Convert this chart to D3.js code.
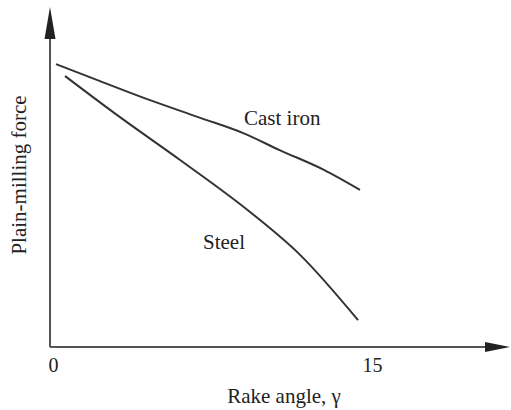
<!DOCTYPE html>
<html>
<head>
<meta charset="utf-8">
<script src="https://cdn.jsdelivr.net/npm/d3@7"></script>
<style>
html,body{margin:0;padding:0;background:#fff;}
svg{display:block;}
text{font-family:"Liberation Serif","DejaVu Serif",serif;fill:#222;}
</style>
</head>
<body>
<svg id="chart" width="511" height="410"></svg>
<script>
// Data (rake angle in degrees, force in relative units)
const castIronX = [0.28, 2.33, 4.66, 7.0, 9.0, 10.7, 12.76, 14.44];
const castIronY = [83.2, 78.2, 72.6, 67.4, 62.9, 57.9, 52.1, 46.2];
const steelX = [0.70, 3.26, 6.06, 9.32, 11.65, 14.35];
const steelY = [79.7, 67.6, 55.0, 39.7, 27.1, 7.9];
const xTickValues = [0, 15];
const xTickLabels = ["0", "15"];
const seriesLabels = ["Cast iron", "Steel"];

const svg = d3.select("#chart");
const x = d3.scaleLinear().domain([0, 15]).range([50, 372]);
const y = d3.scaleLinear().domain([0, 100]).range([347, 7]);

const axisColor = "#555";
// axes lines
svg.append("line").attr("x1", x(0)).attr("x2", 490).attr("y1", y(0)).attr("y2", y(0))
  .attr("stroke", axisColor).attr("stroke-width", 2);
svg.append("line").attr("x1", x(0)).attr("x2", x(0)).attr("y1", y(0)).attr("y2", 30)
  .attr("stroke", axisColor).attr("stroke-width", 2);
// arrow heads
svg.append("path").attr("d", `M485,${y(0)-5} L510,${y(0)} L485,${y(0)+5} Z`).attr("fill", "#222");
svg.append("path").attr("d", `M${x(0)-5.5},39 L${x(0)},7 L${x(0)+5.5},39 Z`).attr("fill", "#222");

// x tick labels via axis
const xAxis = d3.axisBottom(x).tickValues(xTickValues).tickFormat((d, i) => xTickLabels[i]).tickSize(0).tickPadding(0);
const gx = svg.append("g").attr("transform", `translate(0,${y(0)})`).call(xAxis);
gx.select(".domain").remove();
gx.selectAll("text").attr("font-family", '"Liberation Serif",serif').attr("font-size", 20).attr("fill", "#222")
  .attr("dy", null).attr("y", 25);
gx.selectAll(".tick").filter((d) => d === 0).select("text").attr("x", 3);

const line = d3.line().x(d => x(d[0])).y(d => y(d[1])).curve(d3.curveMonotoneX);
const ci = castIronX.map((v, i) => [v, castIronY[i]]);
const st = steelX.map((v, i) => [v, steelY[i]]);
[ci, st].forEach(data => {
  svg.append("path").datum(data).attr("d", line).attr("fill", "none")
    .attr("stroke", "#333").attr("stroke-width", 2);
});

// series labels
svg.append("text").attr("x", 244).attr("y", 125).attr("font-size", 21).text(seriesLabels[0]);
svg.append("text").attr("x", 203).attr("y", 249).attr("font-size", 21).text(seriesLabels[1]);

// axis titles
svg.append("text").attr("x", 284).attr("y", 403).attr("text-anchor", "middle").attr("font-size", 21).text("Rake angle, γ");
svg.append("text").attr("transform", "translate(26,175) rotate(-90)").attr("text-anchor", "middle").attr("font-size", 21).text("Plain-milling force");
</script>
</body>
</html>
